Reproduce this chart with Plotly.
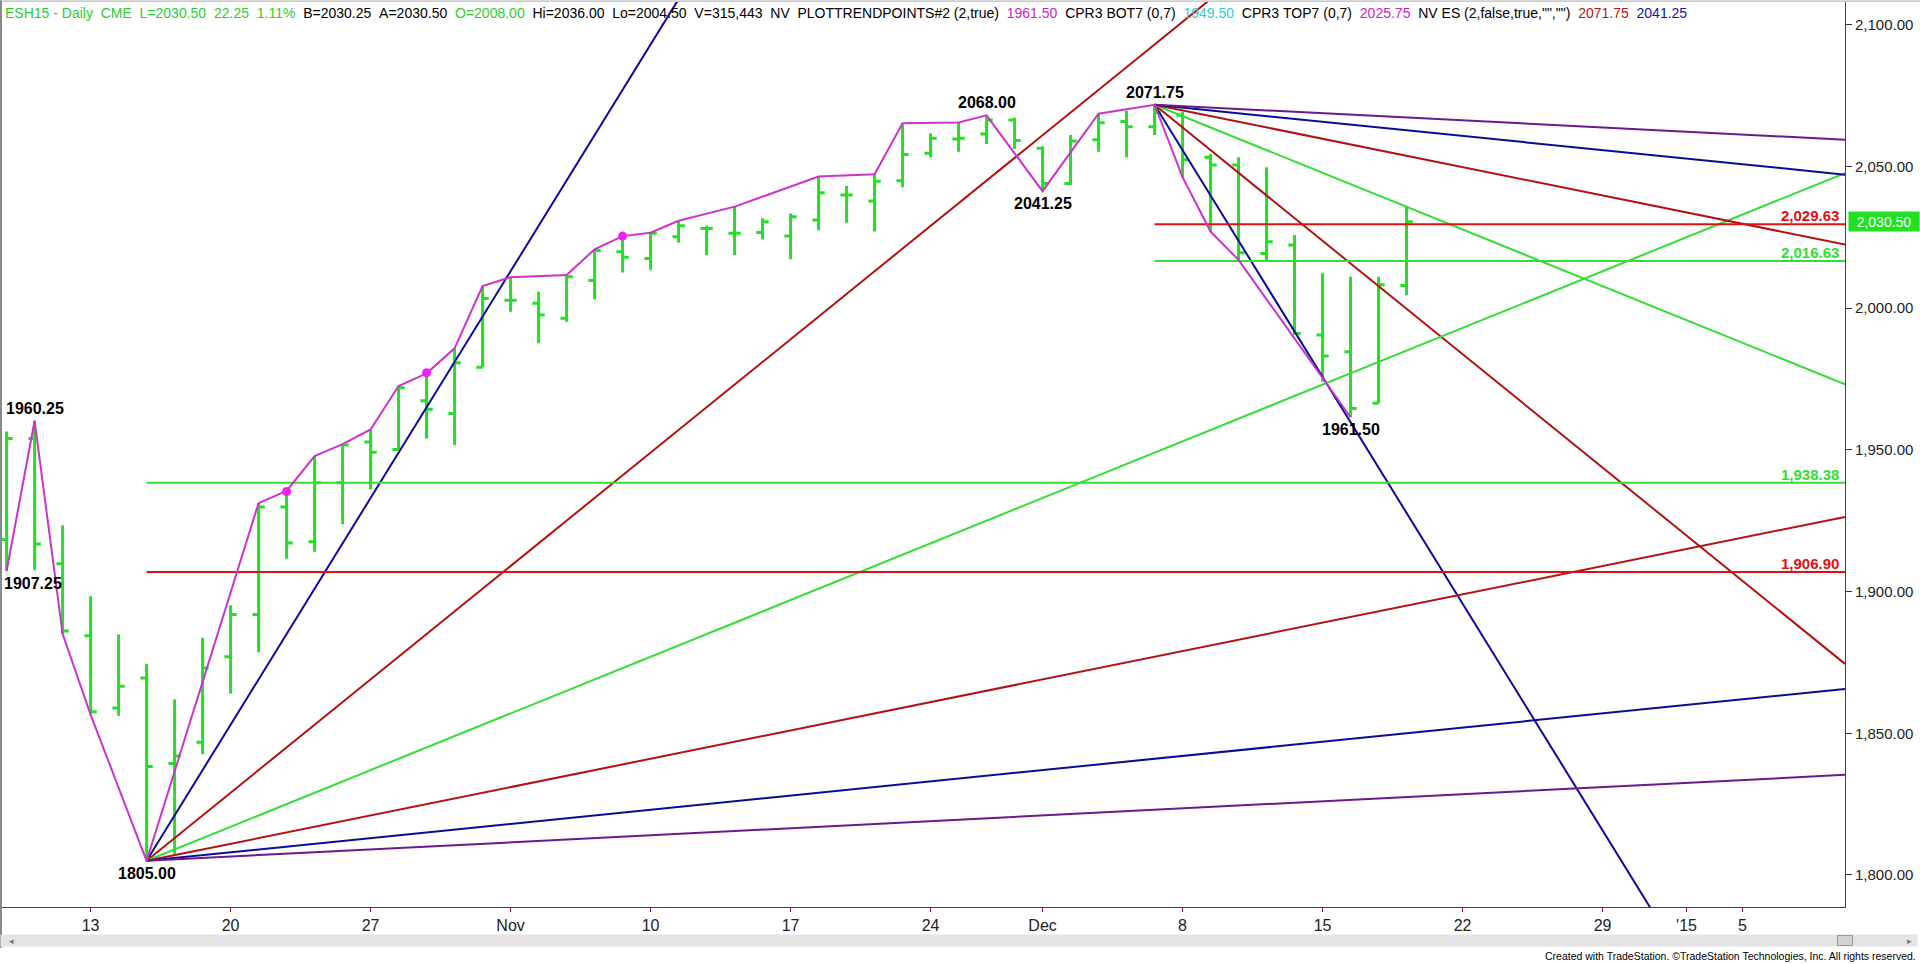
import plotly.graph_objects as go
import pandas as pd

# ---------------- data ----------------
bar_opens = [1918.4, 1954.0, 1909.8, 1884.4, 1858.9, 1869.5, 1839.3, 1846.8, 1877.0, 1891.9,
             1929.8, 1917.6, 1938.4, 1952.8, 1950.1, 1967.3, 1962.8, 1979.1, 2002.8, 2001.7,
             1996.4, 2009.7, 2019.9, 2017.5, 2025.2, 2028.1, 2026.4, 2026.7, 2025.4, 2031.1,
             2039.9, 2037.8, 2044.9, 2054.6, 2059.7, 2061.4, 2066.4, 2056.4, 2044.0, 2059.4,
             2065.8, 2064.0, 2068.0, 2053.2, 2050.5, 2019.3, 2022.3, 1990.5, 1984.6, 1966.4,
             2008.0]
bar_highs = [1956.5, 1960.25, 1923.4, 1898.3, 1884.8, 1874.5, 1861.9, 1883.7, 1895.2, 1931.2,
             1935.5, 1947.8, 1952.0, 1957.2, 1972.5, 1977.0, 1985.8, 2007.8, 2010.9, 2005.8,
             2011.7, 2020.7, 2025.4, 2026.6, 2030.8, 2029.1, 2035.8, 2031.7, 2033.4, 2046.4,
             2043.1, 2047.2, 2065.2, 2061.7, 2065.5, 2068.0, 2067.2, 2057.0, 2061.1, 2068.6,
             2069.6, 2071.75, 2069.3, 2054.4, 2053.2, 2049.7, 2025.8, 2012.3, 2011.1, 2011.1,
             2036.0]
bar_lows = [1907.25, 1907.5, 1885.1, 1856.6, 1856.2, 1805.0, 1807.5, 1842.6, 1864.0, 1878.6,
            1911.6, 1914.0, 1923.7, 1936.0, 1950.1, 1954.0, 1951.7, 1979.1, 1998.7, 1987.6,
            1995.2, 2003.1, 2012.6, 2013.5, 2023.1, 2018.7, 2018.7, 2024.2, 2017.2, 2027.5,
            2030.1, 2027.0, 2042.6, 2053.2, 2055.2, 2057.9, 2056.1, 2041.25, 2043.4, 2055.2,
            2053.2, 2061.1, 2046.2, 2027.0, 2017.0, 2017.0, 1990.5, 1974.0, 1961.5, 1966.4,
            2004.5]
bar_closes = [1954.0, 1916.8, 1886.1, 1857.6, 1866.6, 1838.3, 1842.0, 1873.0, 1891.9, 1929.8,
              1917.1, 1938.4, 1951.7, 1949.1, 1971.9, 1964.3, 1980.7, 2003.4, 2002.8, 1997.6,
              2011.1, 2020.3, 2017.9, 2026.4, 2029.1, 2028.1, 2026.4, 2030.5, 2032.2, 2040.7,
              2039.9, 2044.8, 2054.2, 2059.9, 2059.9, 2066.4, 2059.1, 2044.0, 2059.0, 2065.4,
              2064.0, 2069.0, 2052.3, 2050.5, 2019.5, 2023.4, 1991.0, 1983.1, 1964.6, 2008.2,
              2030.5]

# swing (trend point) line: (date, price)
swing_dates = ["2014-10-08", "2014-10-09", "2014-10-10", "2014-10-13", "2014-10-15", "2014-10-21",
               "2014-10-22", "2014-10-23", "2014-10-24", "2014-10-27", "2014-10-28", "2014-10-29",
               "2014-10-30", "2014-10-31", "2014-11-03", "2014-11-05", "2014-11-06", "2014-11-07",
               "2014-11-10", "2014-11-11", "2014-11-13", "2014-11-18", "2014-11-20", "2014-11-21",
               "2014-11-25", "2014-11-26", "2014-12-01", "2014-12-03", "2014-12-05", "2014-12-08",
               "2014-12-09", "2014-12-10", "2014-12-16"]
swing_prices = [1907.25, 1960.25, 1885.1, 1856.6, 1805.00, 1931.2,
                1935.5, 1947.8, 1952.0, 1957.2, 1972.5, 1977.0,
                1985.8, 2007.8, 2010.9, 2011.7, 2020.7, 2025.4,
                2026.6, 2030.8, 2035.8, 2046.4, 2047.2, 2065.2,
                2065.5, 2068.00, 2041.25, 2068.6, 2071.75, 2046.2,
                2027.0, 2017.0, 1961.50]
dot_dates = ["2014-10-22", "2014-10-29", "2014-11-07"]
dot_prices = [1935.3, 1977.2, 2025.4]

# labelled pivots
pivot_dates = ["2014-10-09", "2014-10-08", "2014-10-15", "2014-11-26", "2014-12-01", "2014-12-05", "2014-12-16"]
pivot_prices = [1960.25, 1907.25, 1805.00, 2068.00, 2041.25, 2071.75, 1961.50]
pivot_above = [True, False, False, True, False, True, False]

# Gann fans
fan_up_date, fan_up_price = "2014-10-15", 1805.00
fan_dn_date, fan_dn_price = "2014-12-05", 2071.75
fan_slopes = [16, 8, 4, 2, 1, 0.5]          # points per bar
BLUE, DRED, GREEN, PURPLE, RED, MAG = "#0B0B96", "#B31212", "#33DD33", "#6A1B8A", "#E01010", "#CC33CC"
fan_colors = [BLUE, DRED, GREEN, DRED, BLUE, PURPLE]

# horizontal levels
level_values = [2029.63, 2016.63, 1938.38, 1906.90]
level_starts = ["2014-12-05", "2014-12-05", "2014-10-15", "2014-10-15"]
level_colors = [RED, GREEN, GREEN, RED]

# axis ticks
tick_dates = ["2014-10-13", "2014-10-20", "2014-10-27", "2014-11-03", "2014-11-10", "2014-11-17",
              "2014-11-24", "2014-12-01", "2014-12-08", "2014-12-15", "2014-12-22", "2014-12-29",
              "2015-01-01", "2015-01-05"]
tick_text = ["13", "20", "27", "Nov", "10", "17", "24", "Dec", "8", "15", "22", "29", "'15", "5"]
y_ticks = [1800, 1850, 1900, 1950, 2000, 2050, 2100]
last_price = 2030.50

# ---------------- trading-day axis ----------------
days = [d for d in pd.bdate_range("2014-10-08", "2015-01-20") if d != pd.Timestamp("2014-11-27")]
pos = {d.strftime("%Y-%m-%d"): i for i, d in enumerate(days)}
bar_x = list(range(len(bar_opens)))
X0, X1 = -0.2, 65.66
Y0, Y1 = 1788.7, 2108.0
BARG = "#22E022"
SANS = "Liberation Sans, Arial, sans-serif"

fig = go.Figure()

# fans
for s, c in zip(fan_slopes, fan_colors):
    xa = pos[fan_up_date]
    fig.add_trace(go.Scatter(x=[xa, X1], y=[fan_up_price, fan_up_price + s * (X1 - xa)],
                             mode="lines", line=dict(color=c, width=2), hoverinfo="skip"))
    xb = pos[fan_dn_date]
    fig.add_trace(go.Scatter(x=[xb, X1], y=[fan_dn_price, fan_dn_price - s * (X1 - xb)],
                             mode="lines", line=dict(color=c, width=2), hoverinfo="skip"))

# levels
for v, st, c in zip(level_values, level_starts, level_colors):
    fig.add_trace(go.Scatter(x=[pos[st], X1], y=[v, v], mode="lines",
                             line=dict(color=c, width=2), hoverinfo="skip"))
    fig.add_annotation(x=X1, y=v, xref="x", yref="y", text="<b>{:,.2f}</b>".format(v),
                       showarrow=False, xanchor="right", yanchor="bottom", xshift=-4, yshift=-2,
                       font=dict(family=SANS, size=15, color=c))

# bars
fig.add_trace(go.Ohlc(x=bar_x, open=bar_opens, high=bar_highs, low=bar_lows, close=bar_closes,
                      increasing=dict(line=dict(color=BARG, width=3)),
                      decreasing=dict(line=dict(color=BARG, width=3)),
                      tickwidth=0.22, hoverinfo="skip", showlegend=False))

# swing line
fig.add_trace(go.Scatter(x=[pos[d] for d in swing_dates], y=swing_prices, mode="lines",
                         line=dict(color=MAG, width=2), hoverinfo="skip"))
fig.add_trace(go.Scatter(x=[pos[d] for d in dot_dates], y=dot_prices, mode="markers",
                         marker=dict(color="#EE22EE", size=9), hoverinfo="skip"))

for d, p, up in zip(pivot_dates, pivot_prices, pivot_above):
    xi = pos[d]
    kw = dict(xanchor="center")
    if xi == 0:
        xi, kw = X0, dict(xanchor="left", xshift=1)
    fig.add_annotation(x=xi, y=p, text="<b>{:.2f}</b>".format(p), showarrow=False,
                       yanchor="bottom" if up else "top", yshift=2 if up else -2,
                       font=dict(family=SANS, size=16, color="black"), **kw)

# price box
fig.add_annotation(x=1, xref="paper", y=last_price, yref="y", text="{:,.2f}".format(last_price),
                   showarrow=False, xanchor="left", xshift=3, bgcolor="#22E022", width=68, height=17,
                   font=dict(family=SANS, size=14, color="white"))

# header
NB = "\u00a0"
def seg(t, c):
    return '<span style="color:{}">{}</span>'.format(c, t.replace(" ", NB))
header = (seg("ESH15 - Daily  CME  L=2030.50  22.25  1.11%  ", "#2ECC2E") +
          seg("B=2030.25  A=2030.50  ", "black") + seg("O=2008.00", "#2ECC2E") +
          seg("  Hi=2036.00  Lo=2004.50  V=315,443  NV  PLOTTRENDPOINTS#2 (2,true)  ", "black") +
          seg("1961.50", "#CC22CC") + seg("  CPR3 BOT7 (0,7)  ", "black") +
          seg("1949.50", "#33CCCC") + seg("  CPR3 TOP7 (0,7)  ", "black") +
          seg("2025.75", "#CC22CC") + seg('  NV ES (2,false,true,"","")  ', "black") +
          seg("2071.75", "#C01010") + seg("  2041.25", "#1010B0"))
fig.add_annotation(x=0, xref="paper", y=1, yref="paper", text=header, showarrow=False,
                   xanchor="left", yanchor="top", xshift=2, yshift=-1,
                   font=dict(family=SANS, size=14, color="black"))

# scroll bar (drawn as boxes below the axis), borders and footer
fig.add_annotation(xref="paper", yref="paper", x=0, y=-0.0300, xanchor="left", yanchor="top",
                   xshift=-1, text=NB, showarrow=False, width=1916, height=11,
                   bgcolor="#E4E4E4", borderpad=0, font=dict(size=8, color="#E4E4E4"))
fig.add_annotation(xref="paper", yref="paper", x=0.9955, y=-0.0312, xanchor="left", yanchor="top",
                   text=NB, showarrow=False, width=14, height=9, bgcolor="#D2D2D2",
                   bordercolor="#9A9A9A", borderwidth=1, borderpad=0, font=dict(size=7, color="#D2D2D2"))
fig.add_annotation(xref="paper", yref="paper", x=0, y=-0.0370, xanchor="left", yanchor="middle",
                   xshift=6, text="\u25c2", showarrow=False, font=dict(size=9, color="#777777"))
fig.add_annotation(xref="paper", yref="paper", x=1.0395, y=-0.0370, xanchor="right", yanchor="middle",
                   xshift=-4, text="\u25b8", showarrow=False, font=dict(size=9, color="#777777"))
fig.add_annotation(xref="paper", yref="paper", x=1.0395, y=-0.0541, xanchor="right", yanchor="middle",
                   text="Created with TradeStation. \u00a9TradeStation Technologies, Inc. All rights reserved.",
                   showarrow=False, font=dict(family=SANS, size=10.5, color="black"))
fig.add_shape(type="line", xref="paper", yref="paper", x0=0, x1=0, y0=-0.045, y1=1.002,
              line=dict(color="#888888", width=2))
fig.add_shape(type="line", xref="paper", yref="paper", x0=0, x1=1.05, y0=1.001, y1=1.001,
              line=dict(color="#A8A8A8", width=1))

fig.update_layout(
    width=1920, height=964, autosize=False,
    margin=dict(l=1, r=75, t=2, b=57),
    paper_bgcolor="white", plot_bgcolor="white", showlegend=False,
    xaxis=dict(range=[X0, X1], tickmode="array", tickvals=[pos[d] for d in tick_dates],
               ticktext=tick_text, showgrid=False, zeroline=False, showline=True,
               linecolor="#B01020", linewidth=1, ticks="outside", ticklen=4, tickcolor="#B01020",
               rangeslider=dict(visible=False),
               tickfont=dict(family=SANS, size=16, color="#222")),
    yaxis=dict(range=[Y0, Y1], side="right", tickmode="array", tickvals=y_ticks,
               tickformat=",.2f", showgrid=False, zeroline=False, showline=True,
               linecolor="#B01020", linewidth=1, ticks="outside", ticklen=6, tickcolor="#333",
               tickfont=dict(family=SANS, size=15, color="#222")),
)
fig.write_html("out.html", config={"displayModeBar": False},
               post_script="document.body.style.margin='0px';document.body.style.overflow='hidden';")
